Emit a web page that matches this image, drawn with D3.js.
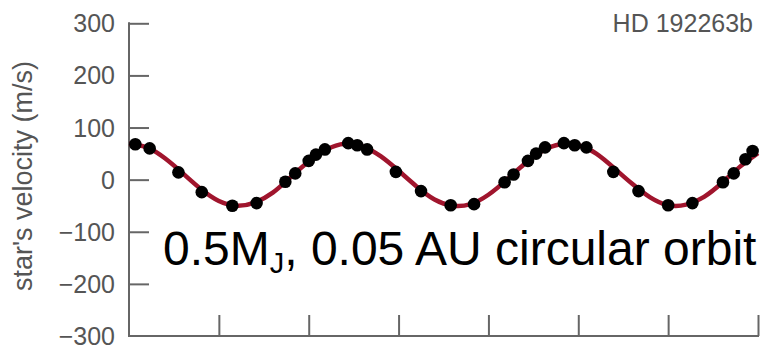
<!DOCTYPE html>
<html>
<head>
<meta charset="utf-8">
<script src="https://cdn.jsdelivr.net/npm/d3@7"></script>
<style>
  html, body { margin: 0; padding: 0; background: #fff; }
  svg { display: block; }
</style>
</head>
<body>
<svg id="chart" width="761" height="351"></svg>
<script>
// ---- data ----
const title = "HD 192263b";
const yLabel = "star's velocity (m/s)";
const yTicks = [-300, -200, -100, 0, 100, 200, 300];
const xTicks = [10, 20, 30, 40, 50, 60, 70];
// observed radial velocities: time (days) and velocity (m/s)
const obsDays = [0.7, 2.3, 5.5, 8.1, 11.5, 14.2, 17.4, 18.5, 20.0, 20.8, 21.8, 24.4, 25.4, 26.5,
                 29.7, 32.5, 35.8, 38.4, 41.8, 42.8, 44.4, 45.3, 46.3, 48.4, 49.6, 50.9,
                 53.9, 56.7, 60.0, 62.7, 66.1, 67.3, 68.6, 69.4];
const obsVel  = [68, 60, 14, -24, -50, -45, -4, 12, 36, 48, 58, 70, 66, 58,
                 15, -22, -49, -47, -5, 10, 36, 50, 62, 70, 66, 62,
                 15, -22, -49, -45, -5, 12, 39, 55];
// fitted orbit curve, read at 2-day spacing
const fitDays = [0, 2, 4, 6, 8, 10, 12, 14, 16, 18, 20, 22, 24, 26, 28, 30, 32, 34, 36,
                 38, 40, 42, 44, 46, 48, 50, 52, 54, 56, 58, 60, 62, 64, 66, 68, 70];
const fitVel  = [69, 62, 41, 12, -18, -41, -50, -44, -25, 5, 35, 58, 69, 64, 45, 17, -13, -38, -50,
                 -47, -29, -1, 30, 55, 68, 66, 50, 22, -8, -34, -49, -48, -33, -6, 25, 51];
const note = { main: "0.5M", sub: "J", rest: ", 0.05 AU circular orbit" };

// ---- layout ----
const svg = d3.select("#chart");
const x = d3.scaleLinear().domain([0, 70]).range([129, 758]);
const y = d3.scaleLinear().domain([-300, 300]).range([336, 23.3]);
const axisColor = "#666";
const textColor = "#555";
const font = "'Liberation Sans', Arial, Helvetica, sans-serif";

// y axis
const yAxis = d3.axisRight(y).tickValues(yTicks.filter(d => d !== -300)).tickSize(20).tickFormat("");
const gy = svg.append("g").attr("transform", `translate(${x(0)},0)`).call(yAxis);
gy.select(".domain").remove();
gy.selectAll(".tick line").attr("stroke", axisColor).attr("stroke-width", 2);
svg.append("line").attr("x1", x(0)).attr("x2", x(0)).attr("y1", y(300) - 1).attr("y2", y(-300) + 1)
   .attr("stroke", axisColor).attr("stroke-width", 2);

// y tick labels
svg.append("g").selectAll("text").data(yTicks).join("text")
  .attr("x", 115).attr("y", d => y(d)).attr("dy", "0.36em")
  .attr("text-anchor", "end")
  .attr("font-family", font).attr("font-size", 25).attr("fill", textColor)
  .text(d => d < 0 ? "\u2212" + Math.abs(d) : d);

// x axis
const xAxis = d3.axisTop(x).tickValues(xTicks).tickSize(21).tickFormat("");
const gx = svg.append("g").attr("transform", `translate(0,${y(-300)})`).call(xAxis);
gx.select(".domain").remove();
gx.selectAll(".tick line").attr("stroke", axisColor).attr("stroke-width", 2);
svg.append("line").attr("x1", x(0) - 1).attr("x2", x(70) + 1).attr("y1", y(-300)).attr("y2", y(-300))
   .attr("stroke", axisColor).attr("stroke-width", 2);

// y label
svg.append("text")
  .attr("transform", `translate(32,176) rotate(-90)`)
  .attr("text-anchor", "middle")
  .attr("font-family", font).attr("font-size", 27).attr("fill", textColor)
  .text(yLabel);

// title
svg.append("text").attr("x", 753).attr("y", 31.5).attr("text-anchor", "end")
  .attr("font-family", font).attr("font-size", 25).attr("fill", textColor)
  .text(title);

// fitted curve
const fit = fitDays.map((d, i) => [d, fitVel[i]]);
svg.append("path").datum(fit)
  .attr("fill", "none").attr("stroke", "#a0152d").attr("stroke-width", 4.5)
  .attr("d", d3.line().x(d => x(d[0])).y(d => y(d[1])).curve(d3.curveNatural));

// observed points
svg.append("g").selectAll("circle").data(obsDays.map((d, i) => [d, obsVel[i]])).join("circle")
  .attr("cx", d => x(d[0])).attr("cy", d => y(d[1])).attr("r", 6.3).attr("fill", "#000");

// annotation
const t = svg.append("text").attr("x", 163).attr("y", 265)
  .attr("font-family", font).attr("font-size", 48).attr("fill", "#000");
t.append("tspan").text(note.main);
t.append("tspan").attr("font-size", 29).attr("dy", 8).text(note.sub);
t.append("tspan").attr("dy", -8).text(note.rest);
</script>
</body>
</html>
